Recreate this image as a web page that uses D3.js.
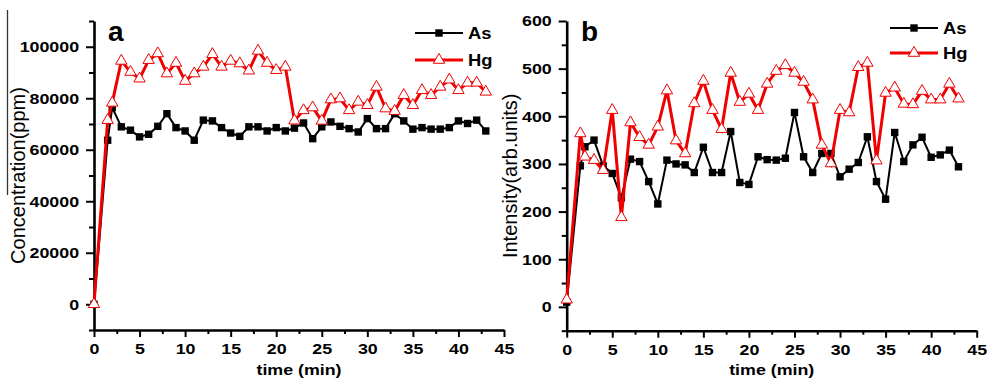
<html>
  <head>
    <title>As / Hg time series</title>
    <script type="text/javascript" src="https://cdn.jsdelivr.net/npm/d3@7/dist/d3.min.js" charset="utf-8"></script>
    <style>
      body { margin: 0; background: #fff; }
      svg text { font-family: "Liberation Sans", Arial, sans-serif; fill: #000; }
    </style>
  </head>
  <body>
    <div id="main"></div>
  <script>
    // sampling times (min) - same for both panels
    var time = [0, 1.5, 2, 3, 4, 5, 6, 7, 8, 9, 10, 11, 12, 13, 14, 15, 16, 17, 18, 19, 20, 21,
                22, 23, 24, 25, 26, 27, 28, 29, 30, 31, 32, 33, 34, 35, 36, 37, 38, 39, 40, 41, 42, 43];

    // panel a : concentration (ppm)
    var asA = [0, 63700, 76400, 68900, 67600, 65000, 66000, 69100, 74000, 68600, 67300, 63700, 71500, 71200,
               68600, 66500, 65200, 68900, 68900, 67300, 68600, 67300, 68400, 70400, 64300, 68900, 70800, 69100,
               68200, 66900, 72100, 68200, 68200, 74000, 71200, 68000, 68600, 68000, 68000, 68600, 71200, 70200,
               71500, 67300];
    var hgA = [0, 71500, 78200, 94500, 90200, 87600, 94800, 97400, 89600, 93700, 86700, 89600, 92200, 97100,
               92200, 94500, 93500, 90700, 98400, 93700, 90900, 92200, 71300, 75300, 76400, 71200, 79500, 79900,
               75300, 78600, 77300, 84400, 76000, 75000, 81200, 77300, 83100, 81200, 84400, 87200, 83100, 86000,
               86000, 82500];

    // panel b : intensity (arb. units)
    var asB = [10, 296, 336, 350, 296, 280, 229, 310, 305, 263, 216, 308, 300, 298, 282, 335, 282, 282, 368,
               261, 257, 315, 309, 308, 312, 408, 315, 282, 322, 322, 273, 289, 303, 357, 263, 226, 366, 305,
               340, 356, 314, 319, 329, 294];
    var hgB = [15, 364, 315, 308, 287, 413, 188, 387, 356, 340, 378, 454, 349, 322, 427, 474, 413, 373, 491,
               430, 447, 413, 468, 495, 507, 491, 472, 435, 340, 301, 413, 408, 503, 512, 307, 449, 460, 426,
               425, 453, 435, 435, 468, 437];

    var xTicks = [0, 5, 10, 15, 20, 25, 30, 35, 40, 45];
    var xMinor = [2.5, 7.5, 12.5, 17.5, 22.5, 27.5, 32.5, 37.5, 42.5];
    var yTicksA = [0, 20000, 40000, 60000, 80000, 100000];
    var yMinorA = [-10000, 10000, 30000, 50000, 70000, 90000, 110000];
    var yTicksB = [0, 100, 200, 300, 400, 500, 600];
    var yMinorB = [-50, 50, 150, 250, 350, 450, 550];

    var seriesNames = ["As", "Hg"];
    var red = "#f00000";

    var svg = d3.select("#main")
      .append("svg")
      .attr("width", 987)
      .attr("height", 379);

    // stray vertical line at left border of the original figure
    svg.append("line")
      .attr("x1", 7.5).attr("x2", 7.5)
      .attr("y1", 10).attr("y2", 195)
      .style("stroke", "#333")
      .style("stroke-width", 1.3);

    var stretch = "scale(1.15,1)";

    function drawPanel(opt) {
      var x = d3.scaleLinear().domain([0, 45]).range([opt.left, opt.right]);
      var y = d3.scaleLinear().domain(opt.yDomain).range([opt.bottom, opt.top]);

      // minor ticks first
      svg.append("g")
        .attr("transform", "translate(0," + opt.bottom + ")")
        .call(d3.axisBottom(x).tickValues(xMinor).tickSize(4).tickFormat(""))
        .call(function(g) { g.select(".domain").remove(); })
        .selectAll("line").style("stroke-width", 2);
      svg.append("g")
        .attr("transform", "translate(" + opt.left + ",0)")
        .call(d3.axisLeft(y).tickValues(opt.yMinor).tickSize(5).tickFormat(""))
        .call(function(g) { g.select(".domain").remove(); })
        .selectAll("line").style("stroke-width", 2);

      // major x axis
      var gx = svg.append("g")
        .attr("transform", "translate(0," + opt.bottom + ")")
        .call(d3.axisBottom(x).tickValues(xTicks).tickSize(7).tickPadding(6).tickSizeOuter(0));
      gx.select(".domain").style("stroke-width", 2.6);
      gx.selectAll("line").style("stroke-width", 2);
      gx.selectAll("text")
        .attr("transform", stretch)
        .style("font-size", "15.5px")
        .style("font-weight", "bold");

      // major y axis
      var gy = svg.append("g")
        .attr("transform", "translate(" + opt.left + ",0)")
        .call(d3.axisLeft(y).tickValues(opt.yTicks).tickFormat(d3.format("d"))
          .tickSize(8).tickPadding(5).tickSizeOuter(0));
      gy.select(".domain").style("stroke-width", 2.6);
      gy.selectAll("line").style("stroke-width", 2);
      gy.selectAll("text")
        .attr("transform", stretch)
        .style("font-size", "15.5px")
        .style("font-weight", "bold");

      // axis titles
      svg.append("text")
        .attr("transform", "translate(" + (opt.left + opt.right) / 2 + ",375) " + stretch)
        .attr("text-anchor", "middle")
        .style("font-size", "15.5px")
        .style("font-weight", "bold")
        .text("time (min)");
      svg.append("text")
        .attr("transform", "translate(" + opt.yTitleX + "," + (opt.top + opt.bottom) / 2 + ") rotate(-90)")
        .attr("text-anchor", "middle")
        .style("font-size", "20px")
        .text(opt.yTitle);

      // panel letter
      svg.append("text")
        .attr("x", opt.letterX).attr("y", 41)
        .style("font-size", "28px")
        .style("font-weight", "bold")
        .text(opt.letter);

      var line = d3.line()
        .x(function(d) { return x(d[0]); })
        .y(function(d) { return y(d[1]); });

      var asPts = time.map(function(t, i) { return [t, opt.asVals[i]]; });
      var hgPts = time.map(function(t, i) { return [t, opt.hgVals[i]]; });

      // As : black line with filled squares
      svg.append("path")
        .attr("d", line(asPts))
        .style("fill", "none")
        .style("stroke", "#000")
        .style("stroke-width", 2);
      svg.selectAll(null)
        .data(asPts)
        .enter()
        .append("rect")
        .attr("x", function(d) { return x(d[0]) - 3.7; })
        .attr("y", function(d) { return y(d[1]) - 3.7; })
        .attr("width", 7.4).attr("height", 7.4)
        .style("fill", "#000");

      // Hg : red line with open triangles
      svg.append("path")
        .attr("d", line(hgPts))
        .style("fill", "none")
        .style("stroke", red)
        .style("stroke-width", 3);
      var tri = d3.symbol().type(d3.symbolTriangle).size(56);
      svg.selectAll(null)
        .data(hgPts)
        .enter()
        .append("path")
        .attr("d", tri)
        .attr("transform", function(d) { return "translate(" + x(d[0]) + "," + y(d[1]) + ")"; })
        .style("fill", "#fff")
        .style("stroke", red)
        .style("stroke-width", 1);

      // legend
      seriesNames.forEach(function(name, i) {
        var ly = opt.legendY[i];
        var isAs = name === "As";
        svg.append("line")
          .attr("x1", opt.legendX).attr("x2", opt.legendX + 48)
          .attr("y1", ly).attr("y2", ly)
          .style("stroke", isAs ? "#000" : red)
          .style("stroke-width", isAs ? 2 : 3);
        if (isAs) {
          svg.append("rect")
            .attr("x", opt.legendX + 24 - 3.7).attr("y", ly - 3.7)
            .attr("width", 7.4).attr("height", 7.4)
            .style("fill", "#000");
        } else {
          svg.append("path")
            .attr("d", tri)
            .attr("transform", "translate(" + (opt.legendX + 24) + "," + ly + ")")
            .style("fill", "#fff")
            .style("stroke", red)
            .style("stroke-width", 1);
        }
        svg.append("text")
          .attr("transform", "translate(" + (opt.legendX + 53) + "," + (ly + 6) + ") " + stretch)
          .style("font-size", "16px")
          .style("font-weight", "bold")
          .text(name);
      });
    }

    drawPanel({
      left: 94, right: 504, top: 21, bottom: 330,
      yDomain: [-10000, 110000], yTicks: yTicksA, yMinor: yMinorA,
      yTitle: "Concentration(ppm)", yTitleX: 25,
      letter: "a", letterX: 108,
      asVals: asA, hgVals: hgA,
      legendX: 415, legendY: [33, 60]
    });

    drawPanel({
      left: 566.7, right: 976.7, top: 21, bottom: 330.7,
      yDomain: [-50, 600], yTicks: yTicksB, yMinor: yMinorB,
      yTitle: "Intensity(arb.units)", yTitleX: 517,
      letter: "b", letterX: 581,
      asVals: asB, hgVals: hgB,
      legendX: 890, legendY: [28, 53]
    });
  </script>
  </body>
</html>
